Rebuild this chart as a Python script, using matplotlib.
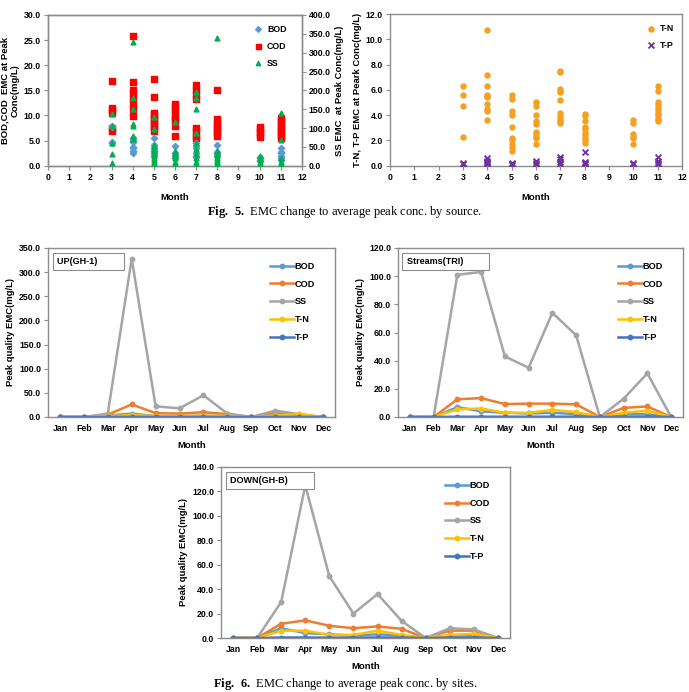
import numpy as np
import matplotlib
matplotlib.use('Agg')
import matplotlib.pyplot as plt

plt.rcParams['font.family'] = ['Liberation Sans', 'DejaVu Sans']
plt.rcParams['font.weight'] = 'bold'
plt.rcParams['mathtext.fontset'] = 'custom'
plt.rcParams['mathtext.rm'] = 'Liberation Serif'
plt.rcParams['mathtext.bf'] = 'Liberation Serif:bold'

# ---- Fig. 5 scatter data (month -> values) ----
bod_pts = {3: [8.0, 7.8, 4.7, 4.5],
           4: [5.5, 5.0, 4.8, 3.8, 3.5, 3.0, 2.5],
           5: [5.5, 4.2, 3.5, 3.0, 2.5, 2.0],
           6: [3.9, 2.5, 2.0, 1.5],
           7: [4.5, 4.0, 3.5, 2.5, 2.0, 1.8],
           8: [4.2, 2.8, 2.5, 2.0],
           10: [1.8, 1.5, 1.2, 1.0],
           11: [3.5, 2.8, 2.5, 2.0, 1.5, 1.2]}
cod_pts = {3: [16.9, 11.5, 11.0, 10.5, 7.5, 7.0],
           4: [25.9, 16.6, 15.0, 14.5, 13.5, 12.5, 11.2, 9.9],
           5: [17.3, 13.6, 10.5, 10.0, 9.5, 9.0, 8.5, 8.0, 7.5, 7.0],
           6: [12.3, 11.5, 11.0, 10.0, 9.5, 9.0, 8.0, 6.0],
           7: [16.0, 15.0, 14.0, 13.2, 7.5, 7.0, 6.0, 5.5],
           8: [15.0, 9.3, 8.5, 8.0, 7.5, 7.0, 6.5, 6.0],
           10: [7.8, 7.3, 6.8, 6.3, 5.8],
           11: [9.5, 9.0, 8.5, 8.0, 7.5, 7.0, 6.5, 6.0, 5.5]}
ss_pts = {3: [136, 105, 60, 31, 8],
          4: [328, 181, 151, 112, 105, 80, 75, 70],
          5: [130, 97, 55, 50, 45, 40, 35, 30, 25, 20, 15, 10, 5, 2],
          6: [117, 40, 35, 30, 25, 20, 10, 5],
          7: [195, 180, 150, 86, 60, 45, 30, 20, 10, 5],
          8: [338, 40, 35, 30, 25, 20, 15, 10, 5],
          10: [25, 18, 10, 5],
          11: [141, 68, 20, 10, 5, 2]}
tn_pts = {3: [6.3, 5.6, 4.7, 2.3],
          4: [10.7, 7.2, 6.3, 5.6, 5.5, 5.4, 4.9, 4.5, 4.3, 3.6],
          5: [5.6, 5.3, 4.3, 4.0, 3.1, 2.2, 2.0, 1.7, 1.5, 1.2],
          6: [5.0, 4.7, 4.0, 3.5, 3.3, 2.7, 2.5, 2.3, 2.2, 1.7],
          7: [7.5, 7.4, 6.1, 5.9, 5.8, 5.2, 4.2, 3.9, 3.7, 3.5, 3.4],
          8: [4.1, 3.9, 3.5, 3.1, 2.9, 2.6, 2.4, 2.2, 2.0, 1.8],
          10: [3.6, 3.4, 2.5, 2.3, 2.2, 1.7],
          11: [6.3, 5.9, 5.0, 4.8, 4.6, 4.4, 4.2, 4.0, 3.8, 3.6, 3.5]}
tp_pts = {3: [0.2, 0.1],
          4: [0.6, 0.4, 0.3, 0.2, 0.1],
          5: [0.2, 0.1, 0.05],
          6: [0.4, 0.2, 0.1],
          7: [0.7, 0.5, 0.3, 0.1],
          8: [1.05, 0.3, 0.2, 0.1],
          10: [0.2, 0.1],
          11: [0.7, 0.4, 0.2, 0.1]}

# ---- Fig. 6 monthly line data ----
months = ['Jan', 'Feb', 'Mar', 'Apr', 'May', 'Jun', 'Jul', 'Aug', 'Sep', 'Oct', 'Nov', 'Dec']
up_bod = [0, 0, 3, 7, 2, 2, 3, 2, 0, 3, 2, 0]
up_cod = [0, 0, 5, 26, 8, 7, 10, 6, 0, 8, 5, 0]
up_ss = [0, 0, 7, 328, 22, 18, 45, 7, 0, 13, 6, 0]
up_tn = [0, 0, 2, 4, 2, 2, 3, 2, 0, 3, 6, 0]
up_tp = [0, 0, 0.1, 0.2, 0.1, 0.1, 0.1, 0.1, 0, 0.1, 0.1, 0]

tri_bod = [0, 0, 7, 4, 3, 2.5, 3, 2, 0, 2, 2, 0]
tri_cod = [0, 0, 12.6, 13.4, 9.2, 9.5, 9.5, 9.0, 0, 6.5, 7.5, 0]
tri_ss = [0, 0, 101, 103, 43, 35, 74, 58, 0, 13, 31, 0]
tri_tn = [0, 0, 5.5, 6, 3, 3, 5, 3.5, 0, 3, 4.5, 0]
tri_tp = [0, 0, 0.2, 0.2, 0.2, 0.2, 0.2, 0.2, 0, 0.2, 0.2, 0]

dn_bod = [0, 0, 8, 4, 3, 2, 3, 2, 0, 2, 2, 0]
dn_cod = [0, 0, 11.7, 14.4, 10, 8, 9.5, 7.5, 0, 6, 6, 0]
dn_ss = [0, 0, 29.5, 125, 50.5, 20, 36, 14, 0, 8, 7, 0]
dn_tn = [0, 0, 6, 6, 2.5, 2.5, 6, 2.5, 0, 2.5, 3.5, 0]
dn_tp = [0, 0, 0.4, 0.4, 0.3, 0.3, 0.4, 0.3, 0, 0.3, 0.3, 0]

W, H = 689, 692
fig = plt.figure(figsize=(W / 100, H / 100), dpi=100)

def box(l, t, r, b):
    return [l / W, 1 - b / H, (r - l) / W, (b - t) / H]

frame_c = '#8c8c8c'
tick_fs = 6.3
lab_fs = 6.8

def style(ax):
    for s in ax.spines.values():
        s.set_color(frame_c)
        s.set_linewidth(1.0)
    ax.tick_params(labelsize=tick_fs, length=3, width=0.8, color=frame_c, pad=2)

def flatten(d):
    xs, ys = [], []
    for m, vals in d.items():
        xs += [m] * len(vals)
        ys += vals
    return xs, ys

# ---------- Fig 5 left ----------
ax1 = fig.add_axes(box(48, 15, 302, 165.7))
style(ax1)
x, y = flatten(bod_pts)
ax1.scatter(x, y, marker='D', s=10, color='#5b9bd5', label='BOD', zorder=3)
x, y = flatten(cod_pts)
ax1.scatter(x, y, marker='s', s=16, color='#ff0000', label='COD', zorder=2)
ax1.set_xlim(0, 12)
ax1.set_ylim(0, 30)
ax1.set_xticks(range(13))
ax1.set_yticks(np.arange(0, 31, 5))
ax1.yaxis.set_major_formatter(plt.FormatStrFormatter('%.1f'))
ax1.set_xlabel('Month', fontsize=lab_fs, fontweight='bold', labelpad=8)
ax1.set_ylabel('BOD,COD  EMC at Peak\nConc(mg/L)', fontsize=lab_fs, fontweight='bold', labelpad=3)
ax1b = ax1.twinx()
style(ax1b)
x, y = flatten(ss_pts)
ax1b.scatter(x, y, marker='^', s=12, color='#00b050', label='SS', zorder=4)
ax1b.set_ylim(0, 400)
ax1b.set_yticks(np.arange(0, 401, 50))
ax1b.yaxis.set_major_formatter(plt.FormatStrFormatter('%.1f'))
ax1b.set_ylabel('SS EMC  at Peak Conc(mg/L)', fontsize=lab_fs, fontweight='bold', labelpad=3)
h1, l1 = ax1.get_legend_handles_labels()
h2, l2 = ax1b.get_legend_handles_labels()
ax1b.legend(h1 + h2, l1 + l2, loc='upper right', bbox_to_anchor=(0.96, 0.97), frameon=False,
            fontsize=6.3, handletextpad=0.0, labelspacing=0.9, borderaxespad=0.2, markerscale=0.9)

# ---------- Fig 5 right ----------
ax2 = fig.add_axes(box(390, 14, 682, 165.7))
style(ax2)
x, y = flatten(tn_pts)
ax2.scatter(x, y, marker='o', s=13, color='#f5a020', label='T-N', zorder=2)
x, y = flatten(tp_pts)
ax2.scatter(x, y, marker='x', s=18, color='#7030a0', linewidths=1.3, label='T-P', zorder=3)
ax2.set_xlim(0, 12)
ax2.set_ylim(0, 12)
ax2.set_xticks(range(13))
ax2.set_yticks(np.arange(0, 12.1, 2))
ax2.yaxis.set_major_formatter(plt.FormatStrFormatter('%.1f'))
ax2.set_xlabel('Month', fontsize=lab_fs, fontweight='bold', labelpad=8)
ax2.set_ylabel('T-N, T-P EMC at Peark Conc(mg/L)', fontsize=lab_fs, fontweight='bold', labelpad=3)
ax2.legend(loc='upper right', bbox_to_anchor=(0.99, 0.97), frameon=False, fontsize=6.3,
           handletextpad=0.0, labelspacing=0.9, borderaxespad=0.2)

fig.text(345 / W, 1 - 212 / H, r'$\mathbf{Fig.\ 5.}$ EMC change to average peak conc. by source.',
         ha='center', va='center', fontsize=9, family='Liberation Serif', fontweight='normal')

# ---------- Fig 6 line charts ----------
colors = {'BOD': '#5b9bd5', 'COD': '#ed7d31', 'SS': '#a5a5a5', 'T-N': '#ffc000', 'T-P': '#4472c4'}

def line_panel(rect, series, ymax, ystep, tag):
    ax = fig.add_axes(rect)
    style(ax)
    xi = np.arange(len(months))
    for name, vals in series:
        ax.plot(xi, vals, color=colors[name], marker='o', markersize=3.2, linewidth=1.8, label=name)
    ax.set_xlim(-0.5, 11.5)
    ax.set_ylim(0, ymax)
    ax.set_xticks(xi)
    ax.set_xticklabels(months)
    ax.set_yticks(np.arange(0, ymax + 0.01, ystep))
    ax.yaxis.set_major_formatter(plt.FormatStrFormatter('%.1f'))
    ax.tick_params(axis='x', length=0, pad=5)
    ax.set_xlabel('Month', fontsize=lab_fs, fontweight='bold', labelpad=6)
    ax.set_ylabel('Peak quality EMC(mg/L)', fontsize=lab_fs, fontweight='bold', labelpad=3)
    ax.legend(loc='upper right', bbox_to_anchor=(0.95, 0.95), frameon=False, fontsize=6.6,
              handlelength=2.6, handletextpad=0.1, labelspacing=0.95, borderaxespad=0.2)
    ax.text(0.03, 0.92, tag + '         ', transform=ax.transAxes, fontsize=6.5, fontweight='bold',
            va='center', ha='left',
            bbox=dict(boxstyle='square,pad=0.45', fc='white', ec=frame_c, lw=0.8))
    return ax

line_panel(box(48, 248, 335, 417),
           [('BOD', up_bod), ('COD', up_cod), ('SS', up_ss), ('T-N', up_tn), ('T-P', up_tp)],
           350, 50, 'UP(GH-1)')
line_panel(box(398, 248, 683, 417),
           [('BOD', tri_bod), ('COD', tri_cod), ('SS', tri_ss), ('T-N', tri_tn), ('T-P', tri_tp)],
           120, 20, 'Streams(TRI)')
line_panel(box(221, 467, 510, 638),
           [('BOD', dn_bod), ('COD', dn_cod), ('SS', dn_ss), ('T-N', dn_tn), ('T-P', dn_tp)],
           140, 20, 'DOWN(GH-B)')

fig.text(345 / W, 1 - 684 / H, r'$\mathbf{Fig.\ 6.}$ EMC change to average peak conc. by sites.',
         ha='center', va='center', fontsize=9, family='Liberation Serif', fontweight='normal')

fig.savefig('out.png', dpi=100)
